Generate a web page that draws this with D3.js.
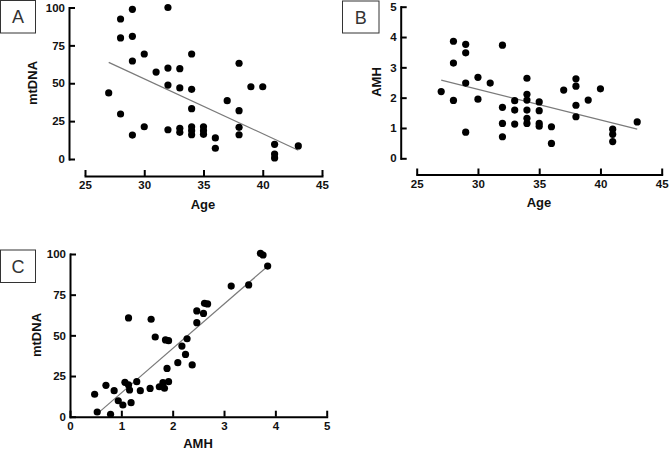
<!DOCTYPE html>
<html><head><meta charset="utf-8">
<script src="https://cdn.jsdelivr.net/npm/d3@7"></script>
<style>
html,body{margin:0;padding:0;background:#fff;}
svg{display:block;}
text{font-family:"Liberation Sans",Arial,sans-serif;}
</style></head>
<body>
<svg id="chart" width="669" height="451"></svg>
<script>
// ---- Data ----
const ageA = [27,28,28,28,29,29,29,29,30,30,31,32,32,32,32,33,33,33,33,34,34,34,34,34,34,35,35,35,36,36,37,38,38,38,38,39,40,41,41,41,43];
const mtdnaA = [43.6,92.4,79.9,29.7,98.8,81,64.7,15.8,69.3,21.3,57.4,100,60,48.8,19.3,59.6,46.9,20.3,17.6,69.3,46,33.2,21.3,18.7,16,21.3,18.7,16.3,13.9,7.1,38.5,63.2,31.9,20.9,16,47.7,47.7,9.7,3.3,0.7,8.6];
const fitA_x = [27, 43];
const fitA_y = [63.8, 5.8];

const ageB = [27,28,28,28,29,29,29,29,30,30,31,32,32,32,32,33,33,33,34,34,34,34,34,34,35,35,35,35,36,36,37,38,38,38,38,39,40,41,41,41,43];
const amhB = [2.20,3.86,3.14,1.91,3.76,3.48,2.48,0.86,2.67,1.95,2.48,3.73,1.68,1.15,0.71,1.90,1.59,1.13,2.64,2.11,1.92,1.59,1.32,1.15,1.86,1.57,1.15,1.06,1.04,0.49,2.25,2.62,2.38,1.75,1.37,1.92,2.29,0.96,0.79,0.55,1.20];
const fitB_x = [27, 43];
const fitB_y = [2.58, 0.96];

const amhC = [0.48,0.53,0.70,0.79,0.86,0.94,1.03,1.07,1.14,1.14,1.16,1.19,1.30,1.37,1.56,1.58,1.66,1.74,1.86,1.92,1.89,1.81,1.92,1.84,2.10,2.18,2.25,2.28,2.38,2.47,2.47,2.60,2.62,2.68,3.14,3.48,3.71,3.76,3.85];
const mtdnaC = [13.8,2.9,19.3,1.5,16,9.8,7.2,21.1,60.7,19.5,16.4,8.6,21.5,16,17.4,59.9,49,18.4,47.2,46.7,29.7,20.9,21.5,17.5,33.2,43.4,38.3,47.9,31.8,65,57.8,63.5,69.7,69.3,80.3,81,100.4,99.4,92.6];
const fitC_x = [0.58, 3.84];
const fitC_y = [3.1, 92.2];

const ageTicks = [25,30,35,40,45];
const mtdnaTicks = [0,25,50,75,100];
const amhTicks = [0,1,2,3,4,5];

// ---- Drawing ----
const svg = d3.select("#chart");

function styleAxis(g){
  g.select(".domain").attr("stroke","#000").attr("stroke-width",2).attr("stroke-linecap","square");
  g.selectAll(".tick line").attr("stroke","#000").attr("stroke-width",2);
  g.selectAll(".tick text").attr("fill","#111").attr("font-size",11.5).attr("font-weight","bold")
    .attr("font-family","'Liberation Sans',Arial,sans-serif");
}

function panel(opts){
  const {xs, ys, xv, yv, fx, fy, xTicks, yTicks, xAxisY, yAxisX, xlab, ylab, xlabPos, ylabPos, letter, box} = opts;
  const gy = svg.append("g").attr("transform",`translate(${yAxisX},0)`)
    .call(d3.axisLeft(ys).tickValues(yTicks).tickSizeInner(-6).tickSizeOuter(0).tickPadding(4).tickFormat(d3.format("d")));
  styleAxis(gy);
  const gx = svg.append("g").attr("transform",`translate(0,${xAxisY})`)
    .call(d3.axisBottom(xs).tickValues(xTicks).tickSizeInner(-6).tickSizeOuter(0).tickPadding(5).tickFormat(d3.format("d")));
  styleAxis(gx);
  svg.append("line")
    .attr("x1", xs(fx[0])).attr("y1", ys(fy[0]))
    .attr("x2", xs(fx[1])).attr("y2", ys(fy[1]))
    .attr("stroke","#7a7a7a").attr("stroke-width",1.2);
  svg.append("g").selectAll("circle").data(xv.map((d,i)=>[d,yv[i]])).join("circle")
    .attr("cx", d=>xs(d[0])).attr("cy", d=>ys(d[1])).attr("r",3.6).attr("fill","#000");
  svg.append("text").attr("x",xlabPos[0]).attr("y",xlabPos[1]).attr("text-anchor","middle")
    .attr("font-size",13).attr("font-weight","bold").attr("fill","#111").text(xlab);
  svg.append("text").attr("transform",`translate(${ylabPos[0]},${ylabPos[1]}) rotate(-90)`)
    .attr("text-anchor","middle").attr("font-size",13).attr("font-weight","bold").attr("fill","#111").text(ylab);
  svg.append("rect").attr("x",box[0]).attr("y",box[1]).attr("width",box[2]).attr("height",box[3])
    .attr("fill","#fff").attr("stroke","#333").attr("stroke-width",1);
  svg.append("text").attr("x",box[0]+box[2]/2).attr("y",box[1]+box[3]/2+6.5).attr("text-anchor","middle")
    .attr("font-size",18).attr("fill","#333").text(letter);
}

// Panel A
panel({
  xs: d3.scaleLinear().domain([25,45]).range([85,322]),
  ys: d3.scaleLinear().domain([0,100]).range([159,7.5]),
  xv: ageA, yv: mtdnaA, fx: fitA_x, fy: fitA_y,
  xTicks: ageTicks, yTicks: mtdnaTicks,
  xAxisY: 176, yAxisX: 69,
  xlab: "Age", ylab: "mtDNA", xlabPos: [203,209], ylabPos: [37,83],
  letter: "A", box: [0.5,0.5,35,32.5]
});

// Panel B
panel({
  xs: d3.scaleLinear().domain([25,45]).range([416.7,661.7]),
  ys: d3.scaleLinear().domain([0,5]).range([158.3,6.7]),
  xv: ageB, yv: amhB, fx: fitB_x, fy: fitB_y,
  xTicks: ageTicks, yTicks: amhTicks,
  xAxisY: 174.5, yAxisX: 400.7,
  xlab: "Age", ylab: "AMH", xlabPos: [539,207], ylabPos: [381,82],
  letter: "B", box: [342.5,1,36.5,32]
});

// Panel C
panel({
  xs: d3.scaleLinear().domain([0,5]).range([70,326.7]),
  ys: d3.scaleLinear().domain([0,100]).range([416.7,254]),
  xv: amhC, yv: mtdnaC, fx: fitC_x, fy: fitC_y,
  xTicks: amhTicks, yTicks: mtdnaTicks,
  xAxisY: 416.7, yAxisX: 70,
  xlab: "AMH", ylab: "mtDNA", xlabPos: [198,448], ylabPos: [41,335],
  letter: "C", box: [0.5,250,35,32.5]
});
</script>
</body></html>
